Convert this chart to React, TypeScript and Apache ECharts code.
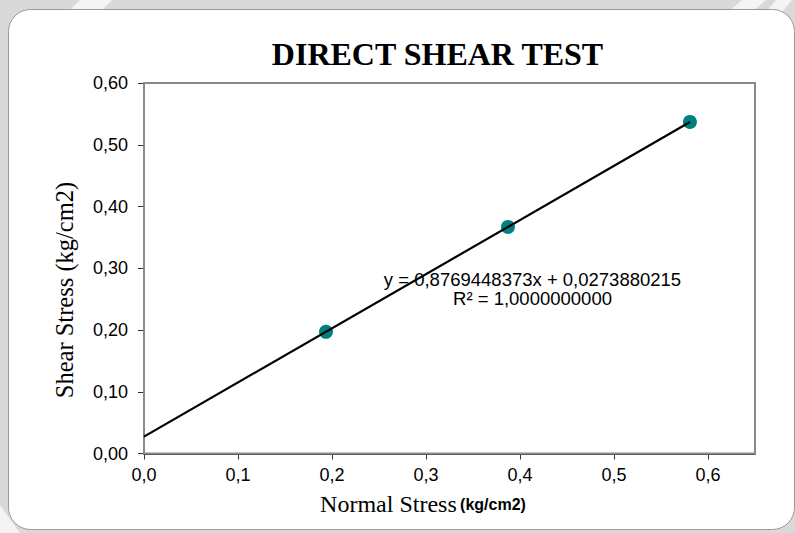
import React, { useEffect, useRef } from "react";
import * as echarts from "echarts";

// Direct shear test: normal stress vs. peak shear stress (kg/cm2)
const normalStress = [0.1936, 0.3872, 0.5808];
const shearStress = [0.197, 0.367, 0.537];

// Linear trendline coefficients
const slope = 0.8769448373;
const intercept = 0.0273880215;
const rSquared = 1.0;

const xTicks = [0, 0.1, 0.2, 0.3, 0.4, 0.5, 0.6];
const yTicks = [0, 0.1, 0.2, 0.3, 0.4, 0.5, 0.6];

const SERIF = "'Liberation Serif', 'Times New Roman', serif";
const SANS = "'Liberation Sans', Arial, sans-serif";

const fmt = (v: number, d: number) => v.toFixed(d).replace(".", ",");

export default function App() {
  const ref = useRef<HTMLDivElement>(null);

  useEffect(() => {
    if (!ref.current) return;
    const chart = echarts.init(ref.current, null, { renderer: "svg" });

    const xEnd = normalStress[normalStress.length - 1];
    const trend = [
      [0, intercept],
      [xEnd, slope * xEnd + intercept],
    ];

    chart.setOption({
      animation: false,
      backgroundColor: "#d9d9d9",
      grid: {
        left: 144,
        right: 40,
        top: 83,
        bottom: 79.5,
        show: true,
        backgroundColor: "#ffffff",
        borderColor: "#8a8a8a",
        borderWidth: 2,
        z: 1,
      },
      xAxis: {
        type: "value",
        min: 0,
        max: 0.65,
        splitLine: { show: false },
        axisLine: { show: true, onZero: false, lineStyle: { color: "#333", width: 2 } },
        axisTick: { show: true, length: 6, customValues: xTicks, lineStyle: { color: "#333", width: 1 } },
        axisLabel: {
          customValues: xTicks,
          formatter: (v: number) => fmt(v, 1),
          color: "#000",
          fontFamily: SANS,
          fontSize: 18,
          margin: 12,
        },
      },
      yAxis: {
        type: "value",
        min: 0,
        max: 0.6,
        interval: 0.1,
        splitLine: { show: false },
        axisLine: { show: true, onZero: false, lineStyle: { color: "#333", width: 2 } },
        axisTick: { show: true, length: 6, lineStyle: { color: "#333", width: 1 } },
        axisLabel: {
          customValues: yTicks,
          formatter: (v: number) => fmt(v, 2),
          color: "#000",
          fontFamily: SANS,
          fontSize: 18,
          margin: 16,
        },
      },
      series: [
        {
          type: "scatter",
          data: normalStress.map((x, i) => [x, shearStress[i]]),
          symbol: "circle",
          symbolSize: 14,
          itemStyle: { color: "#008080", opacity: 1 },
          z: 3,
        },
        {
          type: "line",
          data: trend,
          showSymbol: false,
          symbol: "none",
          lineStyle: { color: "#000", width: 2.2 },
          z: 4,
        },
      ],
      graphic: [
        // faint watermark streaks on the gray backdrop
        { type: "polygon", silent: true, z: -10, shape: { points: [[80, 0], [112, 0], [100, 12], [68, 12]] }, style: { fill: "#f4f4f4" } },
        { type: "polygon", silent: true, z: -10, shape: { points: [[742, 0], [766, 0], [752, 12], [728, 12]] }, style: { fill: "#f4f4f4" } },
        { type: "polygon", silent: true, z: -10, shape: { points: [[776, 0], [792, 0], [782, 12], [766, 12]] }, style: { fill: "#f4f4f4" } },
        { type: "polygon", silent: true, z: -10, shape: { points: [[0, 505], [20, 533], [0, 533]] }, style: { fill: "#f4f4f4" } },
        {
          type: "rect",
          silent: true,
          z: -5,
          shape: { x: 8.5, y: 9.5, width: 786, height: 520, r: 22 },
          style: { fill: "#ffffff", stroke: "#9a9a9a", lineWidth: 1 },
        },
        {
          type: "text",
          x: 437.5,
          y: 53.5,
          style: {
            text: "DIRECT SHEAR TEST",
            fontFamily: SERIF,
            fontWeight: "bold",
            fontSize: 32,
            fill: "#000",
            align: "center",
            verticalAlign: "middle",
          },
        },
        {
          type: "text",
          x: 64,
          y: 290,
          rotation: Math.PI / 2,
          style: {
            text: "Shear Stress (kg/cm2)",
            fontFamily: SERIF,
            fontSize: 24.5,
            fill: "#000",
            align: "center",
            verticalAlign: "middle",
          },
        },
        {
          type: "text",
          x: 423,
          y: 504,
          style: {
            text: "{a|Normal Stress} {b|(kg/cm2)}",
            align: "center",
            verticalAlign: "middle",
            rich: {
              a: { fontFamily: SERIF, fontSize: 24, fill: "#000" },
              b: { fontFamily: SANS, fontSize: 16, fontWeight: "bold", fill: "#000" },
            },
          },
        },
        {
          type: "text",
          x: 532.5,
          y: 279,
          z: 10,
          style: {
            text: `y = ${fmt(slope, 10)}x + ${fmt(intercept, 10)}`,
            fontFamily: SANS,
            fontSize: 18.5,
            fill: "#000",
            align: "center",
            verticalAlign: "middle",
          },
        },
        {
          type: "text",
          x: 532.5,
          y: 298.5,
          z: 10,
          style: {
            text: `R² = ${fmt(rSquared, 10)}`,
            fontFamily: SANS,
            fontSize: 18.5,
            fill: "#000",
            align: "center",
            verticalAlign: "middle",
          },
        },
      ],
    });

    return () => chart.dispose();
  }, []);

  return (
    <div
      ref={ref}
      style={{ position: "fixed", left: 0, top: 0, width: 795, height: 533 }}
    />
  );
}
